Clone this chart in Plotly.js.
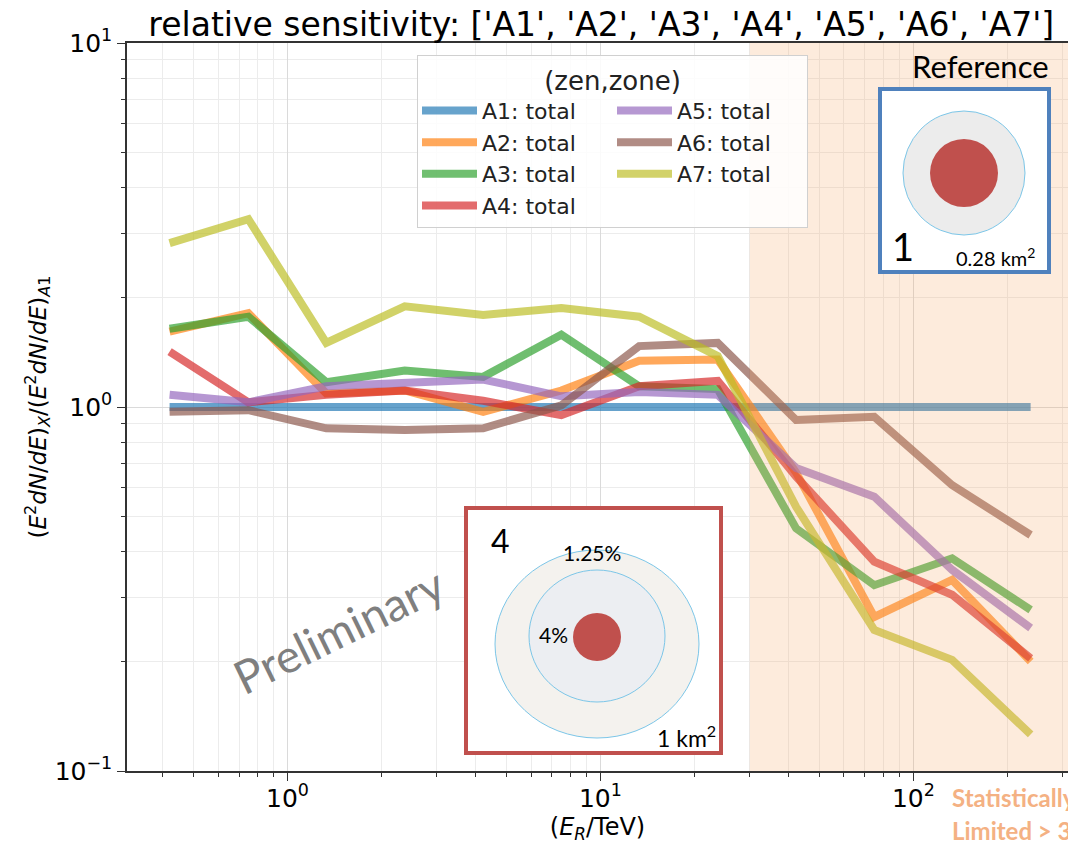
<!DOCTYPE html>
<html>
<head>
<meta charset="utf-8">
<script src="https://cdn.plot.ly/plotly-3.0.1.min.js"></script>
<style>html,body{margin:0;padding:0;background:#fff;}#chart{width:1068px;height:844px;}</style>
</head>
<body>
<div id="chart"></div>
<script>
// ---- data ----
const energy = [0.42, 0.75, 1.33, 2.37, 4.22, 7.5, 13.3, 23.7, 42.2, 75, 133, 237];
const seriesNames = ['A1: total','A2: total','A3: total','A4: total','A5: total','A6: total','A7: total'];
const A1 = [1, 1, 1, 1, 1, 1, 1, 1, 1, 1, 1, 1];
const A2 = [1.61, 1.81, 1.09, 1.11, 0.97, 1.11, 1.34, 1.35, 0.66, 0.265, 0.335, 0.20];
const A3 = [1.64, 1.77, 1.17, 1.26, 1.21, 1.58, 1.14, 1.12, 0.464, 0.324, 0.384, 0.277];
const A4 = [1.42, 1.03, 1.08, 1.11, 1.04, 0.95, 1.14, 1.18, 0.644, 0.376, 0.305, 0.204];
const A5 = [1.08, 1.03, 1.14, 1.17, 1.19, 1.07, 1.10, 1.08, 0.68, 0.567, 0.357, 0.247];
const A6 = [0.97, 0.98, 0.874, 0.865, 0.874, 1.01, 1.47, 1.50, 0.921, 0.94, 0.61, 0.445];
const A7 = [2.82, 3.28, 1.50, 1.89, 1.79, 1.87, 1.77, 1.38, 0.532, 0.244, 0.202, 0.126];
const xTickVals = [1, 10, 100];
const xTickText = ['10<sup>0</sup>', '10<sup>1</sup>', '10<sup>2</sup>'];
const yTickVals = [0.1, 1, 10];
const yTickText = ['10<sup>\u22121</sup>', '10<sup>0</sup>', '10<sup>1</sup>'];
const statLimit = 30; // TeV, start of the shaded region

// ---- styling ----
const colors = ['#1f77b4','#ff7f0e','#2ca02c','#d62728','#9467bd','#8c564b','#bcbd22'];
const allSeries = [A1, A2, A3, A4, A5, A6, A7];
const groups = ['c1','c1','c1','c1','c2','c2','c2'];

const traces = allSeries.map((ys, i) => ({
  type: 'scatter', mode: 'lines', x: energy, y: ys, name: seriesNames[i],
  line: {color: colors[i], width: 8}, opacity: 0.68,
  legendgroup: groups[i], hoverinfo: 'x+y+name'
}));

function minorVals(decades) {
  const out = [];
  decades.forEach(d => { for (let k = 2; k <= 9; k++) out.push(k * d); });
  return out;
}

// pixel -> paper helpers for decorative insets
const PL = 127, PT = 43, PW = 941, PH = 728;
const px = x => (x - PL) / PW;
const py = y => (PT + PH - y) / PH;
function rect(x0, y0, x1, y1, line, fill, lw) {
  return {type: 'rect', xref: 'paper', yref: 'paper', x0: px(x0), x1: px(x1), y0: py(y1), y1: py(y0),
          line: {color: line, width: lw}, fillcolor: fill, layer: 'above'};
}
function ell(cx, cy, rx, ry, line, fill, lw) {
  return {type: 'circle', xref: 'paper', yref: 'paper', x0: px(cx - rx), x1: px(cx + rx), y0: py(cy + ry), y1: py(cy - ry),
          line: {color: line, width: lw}, fillcolor: fill, layer: 'above'};
}
function txt(x, y, text, size, color, extra) {
  return Object.assign({xref: 'paper', yref: 'paper', x: px(x), y: py(y), text: text, showarrow: false,
          xanchor: 'center', yanchor: 'middle', font: {family: 'Lato, "Open Sans", sans-serif', size: size, color: color}}, extra || {});
}

const shapes = [
  {type: 'rect', xref: 'x', yref: 'paper', x0: statLimit, x1: 2000, y0: 0, y1: 1,
   fillcolor: 'rgba(244,164,96,0.22)', line: {width: 0}, layer: 'above'},
  // reference inset
  rect(880, 89, 1049, 272, '#4f81bd', '#ffffff', 4),
  ell(964, 173, 61, 62, '#7cc6e8', '#ececec', 1),
  ell(964, 173, 34, 34, 'rgba(0,0,0,0)', '#c0504d', 0),
  // config 4 inset
  rect(466, 508, 721, 753, '#c0504d', '#ffffff', 4),
  ell(597, 644, 102, 94, '#7cc6e8', '#f4f2ee', 1),
  ell(597, 636, 68, 66, '#7cc6e8', '#eceef2', 1),
  ell(597, 637, 24, 24, 'rgba(0,0,0,0)', '#c0504d', 0)
];

const annotations = [
  txt(980, 66, 'Reference', 31, '#000'),
  txt(903, 246, '1', 38, '#000'),
  txt(995, 257, '0.28 km<sup>2</sup>', 20, '#000'),
  txt(500, 540, '4', 32, '#000'),
  txt(592, 552, '1.25%', 21, '#000'),
  txt(553, 634, '4%', 21, '#000'),
  txt(686, 736, '1 km<sup>2</sup>', 23, '#000'),
  txt(338, 630, 'Preliminary', 46, '#7f7f7f', {textangle: -26}),
  txt(950, 797, '<b>Statistically</b>', 24, '#f4b183', {xanchor: 'left'}),
  txt(950, 830, '<b>Limited > 30 TeV</b>', 24, '#f4b183', {xanchor: 'left'})
];

const axisFont = {family: 'DejaVu Sans, sans-serif', size: 25, color: '#000'};

const layout = {
  width: 1068, height: 844,
  margin: {l: PL, r: 0, t: PT, b: 844 - PT - PH, pad: 0},
  paper_bgcolor: '#fff', plot_bgcolor: '#fff',
  showlegend: true,
  title: {text: "relative sensitivity: ['A1', 'A2', 'A3', 'A4', 'A5', 'A6', 'A7']",
          font: {family: 'DejaVu Sans, sans-serif', size: 33, color: '#000'},
          x: 0.563, xanchor: 'center', y: 0.971, yanchor: 'middle', xref: 'container', yref: 'container'},
  xaxis: {
    type: 'log', range: [Math.log10(0.307), Math.log10(312)],
    tickmode: 'array', tickvals: xTickVals, ticktext: xTickText,
    ticks: 'outside', ticklen: 8, tickwidth: 1, tickcolor: '#333',
    showline: true, linecolor: '#333', linewidth: 1.5, mirror: true,
    showgrid: true, gridcolor: '#dadada', gridwidth: 1, zeroline: false,
    tickfont: axisFont, ticklabelstandoff: -4,
    minor: {tickmode: 'array', tickvals: minorVals([0.1, 1, 10, 100]), ticks: 'outside', ticklen: 4,
            tickcolor: '#333', showgrid: true, gridcolor: '#ececec'},
    title: {text: '(<i>E</i><sub><i>R</i></sub>/TeV)', font: {family: 'DejaVu Sans, sans-serif', size: 24, color: '#000'}, standoff: 10}
  },
  yaxis: {
    type: 'log', range: [-1, 1],
    tickmode: 'array', tickvals: yTickVals, ticktext: yTickText,
    ticks: 'outside', ticklen: 8, tickwidth: 1, tickcolor: '#333',
    showline: true, linecolor: '#333', linewidth: 1.5,
    showgrid: true, gridcolor: '#dadada', gridwidth: 1, zeroline: false,
    tickfont: axisFont,
    minor: {tickmode: 'array', tickvals: minorVals([0.1, 1]), ticks: 'outside', ticklen: 4,
            tickcolor: '#333', showgrid: true, gridcolor: '#ececec'},
    title: {text: '(<i>E</i><sup>2</sup><i>dN</i>/<i>dE</i>)<sub><i>X</i></sub>/(<i>E</i><sup>2</sup><i>dN</i>/<i>dE</i>)<sub><i>A</i>1</sub>',
            font: {family: 'DejaVu Sans, sans-serif', size: 23, color: '#000'}, standoff: 2}
  },
  legend: {
    orientation: 'h', traceorder: 'grouped', x: px(417), y: py(55), xanchor: 'left', yanchor: 'top',
    bgcolor: 'rgba(255,255,255,0.85)', bordercolor: '#d0d0d0', borderwidth: 1,
    font: {family: 'DejaVu Sans, sans-serif', size: 22, color: '#222'},
    title: {text: '(zen,zone)', side: 'top center', font: {family: 'DejaVu Sans, sans-serif', size: 26, color: '#222'}},
    itemwidth: 55, entrywidthmode: 'pixels', entrywidth: 125, tracegroupgap: 0
  },
  shapes: shapes,
  annotations: annotations
};

Plotly.newPlot('chart', traces, layout, {displayModeBar: false, staticPlot: false});
</script>
</body>
</html>
